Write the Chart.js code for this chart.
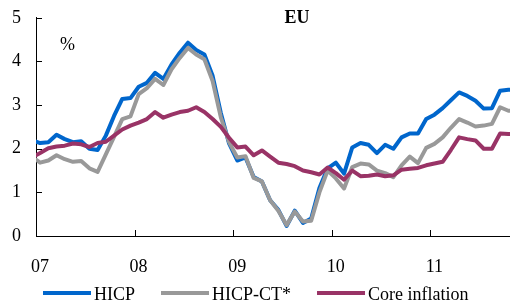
<!DOCTYPE html>
<html>
<head>
<meta charset="utf-8">
<script src="https://cdn.jsdelivr.net/npm/chart.js@4.4.0/dist/chart.umd.min.js"></script>
<style>
  html, body { margin: 0; padding: 0; background: #fff; }
</style>
</head>
<body>
<canvas id="chart" width="510" height="304"></canvas>
<script>
// EU inflation, y/y %, monthly Dec 2006 - Nov 2011
const months = [
  '2006-12',
  '2007-01', '2007-02', '2007-03', '2007-04', '2007-05', '2007-06', '2007-07', '2007-08', '2007-09', '2007-10', '2007-11', '2007-12',
  '2008-01', '2008-02', '2008-03', '2008-04', '2008-05', '2008-06', '2008-07', '2008-08', '2008-09', '2008-10', '2008-11', '2008-12',
  '2009-01', '2009-02', '2009-03', '2009-04', '2009-05', '2009-06', '2009-07', '2009-08', '2009-09', '2009-10', '2009-11', '2009-12',
  '2010-01', '2010-02', '2010-03', '2010-04', '2010-05', '2010-06', '2010-07', '2010-08', '2010-09', '2010-10', '2010-11', '2010-12',
  '2011-01', '2011-02', '2011-03', '2011-04', '2011-05', '2011-06', '2011-07', '2011-08', '2011-09', '2011-10', '2011-11'
];

const hicp = [
  2.20,
  2.13, 2.15, 2.32, 2.22, 2.15, 2.17, 2.00, 1.97, 2.30, 2.75, 3.14, 3.16,
  3.42, 3.51, 3.74, 3.60, 3.93, 4.20, 4.43, 4.26, 4.16, 3.67, 2.82, 2.12,
  1.73, 1.80, 1.35, 1.25, 0.82, 0.60, 0.23, 0.58, 0.30, 0.40, 1.10, 1.55,
  1.68, 1.43, 2.03, 2.13, 2.09, 1.90, 2.09, 2.00, 2.26, 2.35, 2.35, 2.68,
  2.78, 2.93, 3.11, 3.29, 3.21, 3.10, 2.92, 2.93, 3.33, 3.35, 3.36
];

const hicpCT = [
  1.82,
  1.68, 1.73, 1.85, 1.76, 1.70, 1.72, 1.55, 1.47, 1.87, 2.27, 2.68, 2.74,
  3.25, 3.39, 3.60, 3.46, 3.82, 4.08, 4.31, 4.16, 4.05, 3.55, 2.72, 2.15,
  1.80, 1.83, 1.33, 1.25, 0.82, 0.58, 0.25, 0.56, 0.33, 0.35, 1.00, 1.50,
  1.32, 1.09, 1.58, 1.66, 1.64, 1.50, 1.44, 1.35, 1.62, 1.82, 1.67, 2.02,
  2.11, 2.26, 2.48, 2.68, 2.60, 2.51, 2.53, 2.57, 2.95, 2.87, 2.87
];

const coreInflation = [
  1.80,
  1.90, 2.01, 2.05, 2.07, 2.12, 2.10, 2.04, 2.13, 2.16, 2.30, 2.44, 2.53,
  2.60, 2.68, 2.84, 2.71, 2.78, 2.84, 2.87, 2.95, 2.84, 2.68, 2.50, 2.25,
  2.03, 2.05, 1.85, 1.96, 1.82, 1.68, 1.65, 1.60, 1.50, 1.46, 1.41, 1.57,
  1.44, 1.29, 1.50, 1.37, 1.38, 1.41, 1.37, 1.39, 1.52, 1.54, 1.56, 1.62,
  1.66, 1.70, 1.97, 2.26, 2.22, 2.19, 2.00, 2.00, 2.35, 2.34, 2.33
];

const seriesNames = ['HICP', 'HICP-CT*', 'Core inflation'];
const yearTicks = [0, 12, 24, 36, 48];      // months since Jan 2007
const yearLabels = ['07', '08', '09', '10', '11'];
const yTicks = [0, 1, 2, 3, 4, 5];

const FONT = '"Liberation Serif", "Times New Roman", serif';

// points sit mid-month: Jan 2007 at 0.5, Dec 2006 at -0.5
function toPoints(values) {
  return values.map(function (v, i) { return { x: i - 0.5, y: v }; });
}

function lineSet(label, values, color, order) {
  return {
    label: label,
    data: toPoints(values),
    borderColor: color,
    backgroundColor: color,
    borderWidth: 4,
    pointRadius: 0,
    tension: 0,
    borderJoinStyle: 'round',
    order: order,
  };
}

const decorations = {
  id: 'decorations',
  afterDraw: function (chart) {
    const ctx = chart.ctx;
    const area = chart.chartArea;
    const xs = chart.scales.x;
    const ys = chart.scales.y;

    ctx.save();
    // inward tick marks
    ctx.strokeStyle = '#000';
    ctx.lineWidth = 1;
    ctx.beginPath();
    yTicks.forEach(function (v) {
      const y = Math.round(ys.getPixelForValue(v)) + 0.5;
      ctx.moveTo(area.left, y);
      ctx.lineTo(area.left + 6, y);
    });
    yearTicks.forEach(function (v) {
      if (v === 0) return;
      const x = Math.round(xs.getPixelForValue(v)) + 0.5;
      ctx.moveTo(x, area.bottom);
      ctx.lineTo(x, area.bottom - 6);
    });
    ctx.stroke();

    // panel title and unit
    ctx.fillStyle = '#000';
    ctx.textBaseline = 'alphabetic';
    ctx.font = 'bold 18px ' + FONT;
    ctx.textAlign = 'center';
    ctx.fillText('EU', 297, 23);
    ctx.font = '18px ' + FONT;
    ctx.textAlign = 'left';
    ctx.fillText('%', 60, 50);

    // legend
    let x = 43;
    const ly = 293;
    chart.data.datasets.forEach(function (ds) {
      ctx.strokeStyle = ds.borderColor;
      ctx.lineWidth = 4;
      ctx.beginPath();
      ctx.moveTo(x, ly);
      ctx.lineTo(x + 48, ly);
      ctx.stroke();
      x += 51;
      ctx.fillStyle = '#000';
      ctx.fillText(ds.label, x, 300);
      x += ctx.measureText(ds.label).width + 26;
    });
    ctx.restore();
  }
};

new Chart(document.getElementById('chart'), {
  type: 'line',
  data: {
    datasets: [
      lineSet(seriesNames[0], hicp, '#0066CC', 2),
      lineSet(seriesNames[1], hicpCT, '#999999', 1),
      lineSet(seriesNames[2], coreInflation, '#993366', 0),
    ]
  },
  options: {
    responsive: false,
    animation: false,
    layout: { padding: { top: 10, right: 0, bottom: 0, left: 0 } },
    plugins: {
      legend: { display: false },
      tooltip: { enabled: false },
      title: { display: false },
    },
    scales: {
      x: {
        type: 'linear',
        min: 0,
        max: 57.7,
        afterBuildTicks: function (scale) {
          scale.ticks = yearTicks.map(function (v) { return { value: v }; });
        },
        afterFit: function (scale) { scale.height = 68; },
        ticks: {
          autoSkip: false,
          maxRotation: 0,
          padding: 12,
          labelOffset: 4,
          color: '#000',
          font: { family: FONT, size: 18 },
          callback: function (value) { return yearLabels[yearTicks.indexOf(value)]; }
        },
        grid: { display: false },
        border: { display: true, color: '#000', width: 1 },
      },
      y: {
        min: 0,
        max: 5,
        afterBuildTicks: function (scale) {
          scale.ticks = yTicks.map(function (v) { return { value: v }; });
        },
        afterFit: function (scale) { scale.width = 36; },
        ticks: {
          padding: 7,
          color: '#000',
          font: { family: FONT, size: 18 },
          callback: function (value) { return String(value); }
        },
        grid: { display: false },
        border: { display: true, color: '#000', width: 1 },
      }
    }
  },
  plugins: [decorations]
});
</script>
</body>
</html>
